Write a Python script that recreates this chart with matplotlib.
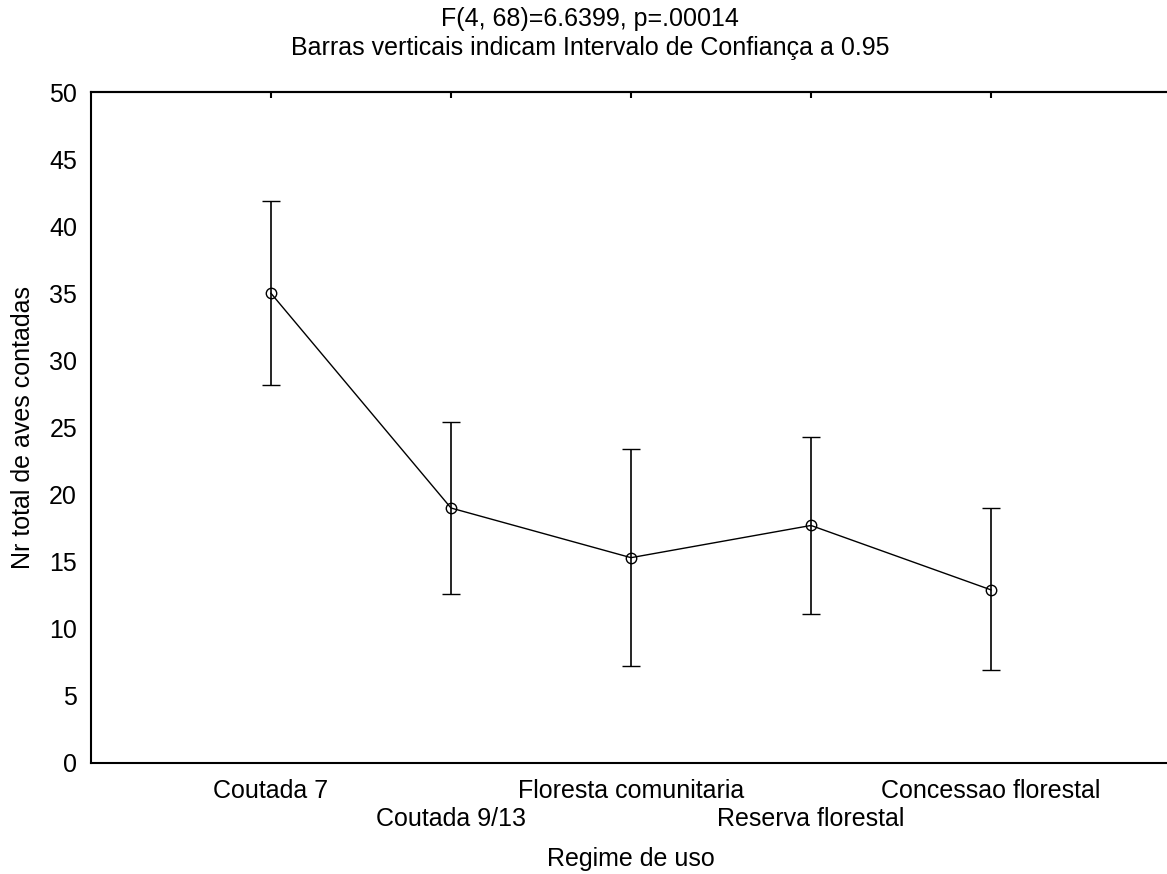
import matplotlib
matplotlib.use('Agg')
import matplotlib.pyplot as plt
import numpy as np

plt.rcParams['font.family'] = ['Liberation Sans', 'DejaVu Sans']

# data
categorias = ['Coutada 7', 'Coutada 9/13', 'Floresta comunitaria',
              'Reserva florestal', 'Concessao florestal']
medias = [35.0, 19.0, 15.3, 17.7, 12.9]
ic_sup = [41.9, 25.4, 23.4, 24.3, 19.0]
ic_inf = [28.2, 12.6, 7.2, 11.1, 6.9]

W, H = 1167, 874
fs = 18

x = np.arange(1, len(categorias) + 1)
m = np.array(medias)
err = [m - np.array(ic_inf), np.array(ic_sup) - m]

fig = plt.figure(figsize=(W/100, H/100), dpi=100)
ax = fig.add_axes([91/W, 1 - 763/H, (1171 - 91)/W, (763 - 92)/H])

ax.errorbar(x, m, yerr=err, color='black', lw=1.0, elinewidth=1.2,
            capsize=6.5, capthick=1.2, marker='o', ms=7.5, mfc='none',
            mec='black', mew=1.0)

ax.set_xlim(0, 6)
ax.set_ylim(0, 50)
ax.set_yticks(np.arange(0, 51, 5))
ax.set_xticks(x)
ax.set_xticklabels(categorias, fontsize=fs)
ax.tick_params(axis='y', labelsize=fs, length=0, pad=10)
ax.tick_params(axis='x', length=0, pad=11.5)
# staggered labels: every second one drops a line
for i, t in enumerate(ax.xaxis.get_major_ticks()):
    if i % 2 == 1:
        t.set_pad(11.5 + 20.5)

# Statistica style: inward ticks only on top and right
top = ax.secondary_xaxis('top')
top.set_xticks(x)
top.tick_params(direction='in', length=4, width=1.5, labeltop=False)
right = ax.secondary_yaxis('right')
right.set_yticks(np.arange(5, 50, 5))
right.tick_params(direction='in', length=2.5, width=1.2, labelright=False)

for sp in ax.spines.values():
    sp.set_linewidth(1.5)
top.spines['top'].set_linewidth(1.5)
right.spines['right'].set_linewidth(1.5)

ax.set_ylabel('Nr total de aves contadas', fontsize=fs, labelpad=10)
fig.text(631/W, 1 - 866/H, 'Regime de uso', ha='center', va='baseline', fontsize=fs)

fig.text(590/W, 1 - 26/H, 'F(4, 68)=6.6399, p=.00014',
         ha='center', va='baseline', fontsize=fs)
fig.text(590/W, 1 - 55/H, 'Barras verticais indicam Intervalo de Confiança a 0.95',
         ha='center', va='baseline', fontsize=fs)

fig.savefig('out.png', dpi=100)
